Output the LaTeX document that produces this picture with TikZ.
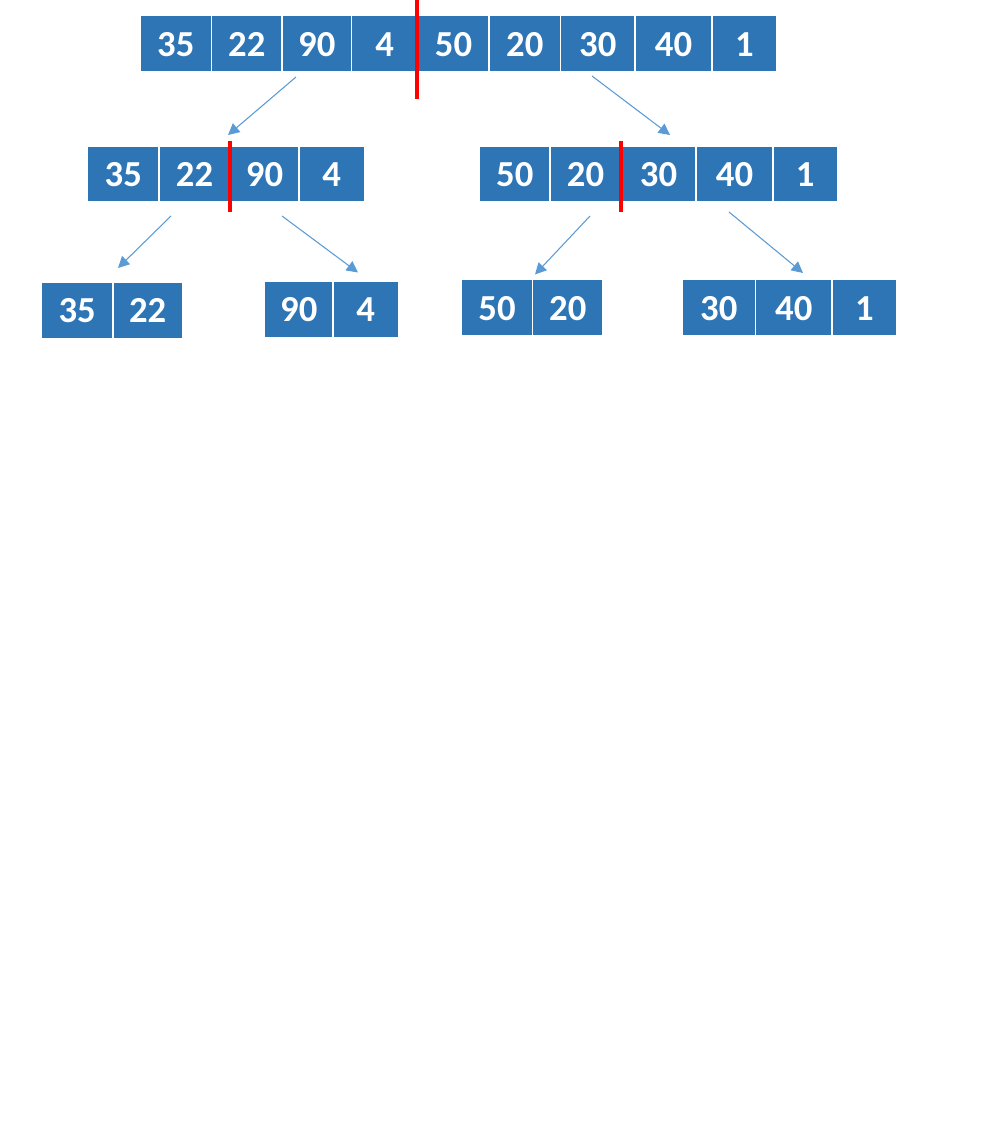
\documentclass[tikz,border=0pt]{standalone}
\usepackage{fontspec}
\setmainfont{Carlito}
\usetikzlibrary{arrows.meta}
\definecolor{cellblue}{RGB}{46,117,182}
\definecolor{arrowblue}{RGB}{91,155,213}
\definecolor{splitred}{RGB}{255,0,0}
\tikzset{
  cell/.style={rectangle, fill=cellblue, draw=white, line width=1.3pt, inner sep=0pt,
    text=white, text height=19pt, text depth=0pt,
    font=\fontsize{27.5}{31}\selectfont\bfseries},
  splitline/.style={draw=splitred, line width=2.3pt},
  arr/.style={draw=arrowblue, line width=0.8pt, -{Triangle[length=8.5pt,width=8.5pt]}}
}
\newcommand\mkcell[6]{%
  \node[cell, minimum width={(#3-#2)*0.75pt}, minimum height={(#5-#4)*0.75pt}]
    (#1) at ({(#2+#3)/2},{(#4+#5)/2}) {#6};}
\begin{document}
\begin{tikzpicture}[x=0.75pt,y=-0.75pt]
\useasboundingbox (0,0) rectangle (995,1130);
% top row
\mkcell{t1}{140}{211.5}{15}{72}{35}
\mkcell{t2}{211.5}{282}{15}{72}{22}
\mkcell{t3}{282}{351.5}{15}{72}{90}
\mkcell{t4}{351.5}{418}{15}{72}{4}
\mkcell{t5}{418}{489}{15}{72}{50}
\mkcell{t6}{489}{560.5}{15}{72}{20}
\mkcell{t7}{560.5}{635}{15}{72}{30}
\mkcell{t8}{635}{712}{15}{72}{40}
\mkcell{t9}{712}{777}{15}{72}{1}
% middle left
\mkcell{l1}{87.5}{159}{146}{202}{35}
\mkcell{l2}{159}{230}{146}{202}{22}
\mkcell{l3}{230}{299}{146}{202}{90}
\mkcell{l4}{299}{364.5}{146}{202}{4}
% middle right
\mkcell{r1}{479.5}{550}{146}{202}{50}
\mkcell{r2}{550}{621}{146}{202}{20}
\mkcell{r3}{621}{696}{146}{202}{30}
\mkcell{r4}{696}{773}{146}{202}{40}
\mkcell{r5}{773}{837.5}{146}{202}{1}
% bottom
\mkcell{a1}{41.5}{112.7}{282}{338.5}{35}
\mkcell{a2}{112.7}{182.5}{282}{338.5}{22}
\mkcell{b1}{264.5}{333}{281}{337.5}{90}
\mkcell{b2}{333}{398.5}{281}{337.5}{4}
\mkcell{c1}{461.5}{532.5}{279}{336}{50}
\mkcell{c2}{532.5}{603}{279}{336}{20}
\mkcell{d1}{682}{755.5}{279}{336}{30}
\mkcell{d2}{755.5}{832}{279}{336}{40}
\mkcell{d3}{832}{897}{279}{336}{1}
% split lines
\coordinate (s0a) at (417,0);   \coordinate (s0b) at (417,99.5);
\coordinate (s1a) at (230,141); \coordinate (s1b) at (230,212);
\coordinate (s2a) at (621,141); \coordinate (s2b) at (621,212);
\draw[splitline] (s0a) -- (s0b);
\draw[splitline] (s1a) -- (s1b);
\draw[splitline] (s2a) -- (s2b);
% arrows
\coordinate (p1) at (296,77);  \coordinate (q1) at (228,135);
\coordinate (p2) at (592,76);  \coordinate (q2) at (670,135);
\coordinate (p3) at (171,216); \coordinate (q3) at (118,268);
\coordinate (p4) at (282,216); \coordinate (q4) at (358,272.5);
\coordinate (p5) at (590,216); \coordinate (q5) at (535,274.5);
\coordinate (p6) at (729,212); \coordinate (q6) at (803,273);
\draw[arr] (p1) -- (q1);
\draw[arr] (p2) -- (q2);
\draw[arr] (p3) -- (q3);
\draw[arr] (p4) -- (q4);
\draw[arr] (p5) -- (q5);
\draw[arr] (p6) -- (q6);
\end{tikzpicture}
\end{document}
